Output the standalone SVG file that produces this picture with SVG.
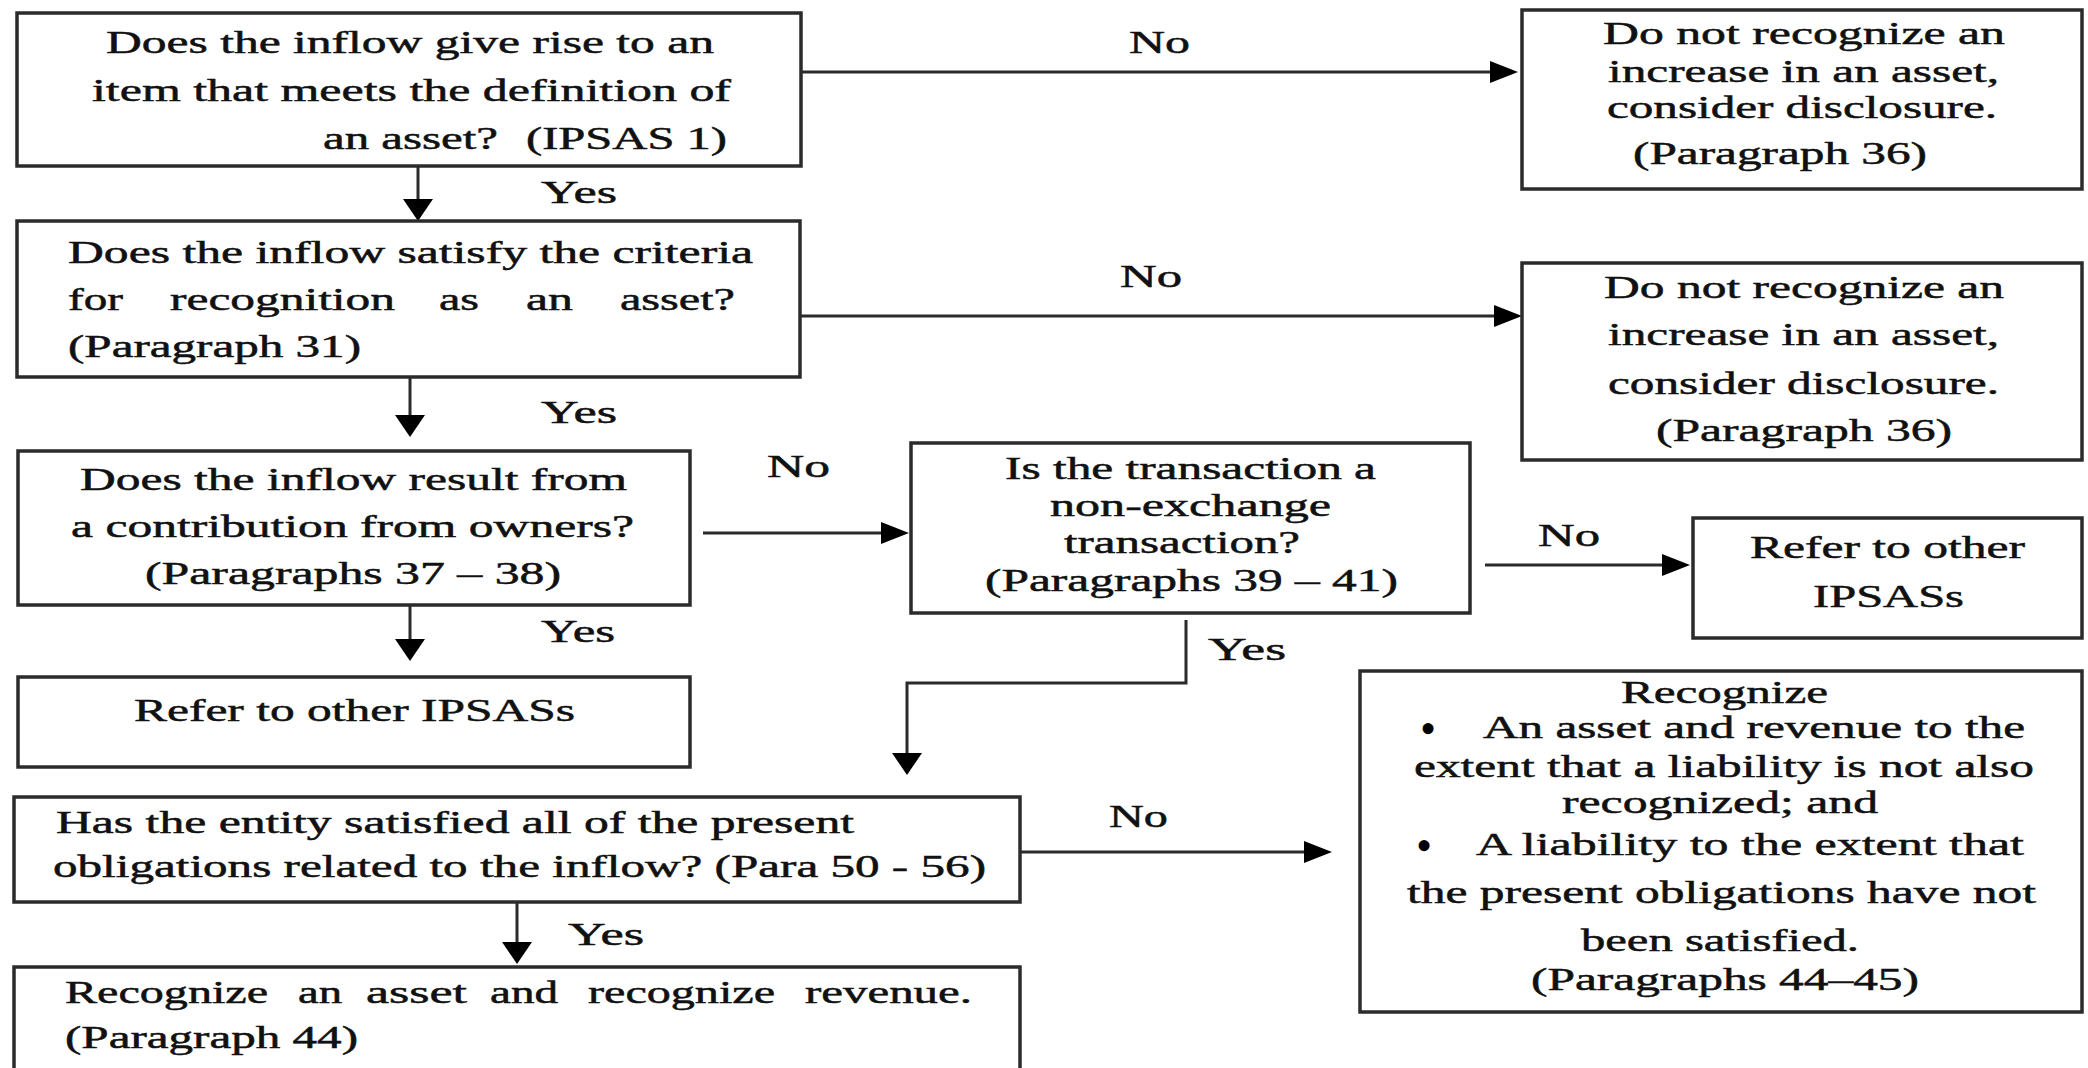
<svg xmlns="http://www.w3.org/2000/svg" width="2088" height="1068" viewBox="0 0 2088 1068">
  <style>
    .box { fill: #ffffff; stroke: #2b2b2b; stroke-width: 3.5; }
    .t { font-family: "Liberation Serif", "Times New Roman", serif; font-size: 31px; fill: #111111; stroke: #111111; stroke-width: 0.5; }
    .b { font-family: "Liberation Serif", "Times New Roman", serif; font-size: 46px; fill: #000000; }
    .c { fill: none; stroke: #2b2b2b; stroke-width: 3; }
  </style>
  <defs>
    <marker id="ah" markerUnits="userSpaceOnUse" markerWidth="30" markerHeight="24" refX="18" refY="11" orient="auto">
      <path d="M0,0 L28,11 L0,22 Z" fill="#000000"/>
    </marker>
    <marker id="av" markerUnits="userSpaceOnUse" markerWidth="24" markerHeight="32" refX="12" refY="15" orient="auto">
      <path d="M0,0 L22,15 L0,30 Z" fill="#000000"/>
    </marker>
  </defs>
  <rect width="2088" height="1068" fill="#ffffff"/>

  <g id="connectors">
    <line class="c" x1="418" y1="166" x2="418" y2="211" marker-end="url(#av)"/>
    <line class="c" x1="410" y1="377" x2="410" y2="427" marker-end="url(#av)"/>
    <line class="c" x1="410" y1="605" x2="410" y2="651" marker-end="url(#av)"/>
    <line class="c" x1="517" y1="902" x2="517" y2="954" marker-end="url(#av)"/>
    <line class="c" x1="801" y1="72" x2="1508" y2="72" marker-end="url(#ah)"/>
    <line class="c" x1="800" y1="316" x2="1512" y2="316" marker-end="url(#ah)"/>
    <line class="c" x1="703" y1="533" x2="899" y2="533" marker-end="url(#ah)"/>
    <line class="c" x1="1485" y1="565" x2="1680" y2="565" marker-end="url(#ah)"/>
    <line class="c" x1="1020" y1="852" x2="1322" y2="852" marker-end="url(#ah)"/>
    <polyline class="c" points="1186,620 1186,683 907,683 907,765" marker-end="url(#av)"/>
    <text class="t" x="541" y="203" textLength="76" lengthAdjust="spacingAndGlyphs">Yes</text>
    <text class="t" x="541" y="423" textLength="76" lengthAdjust="spacingAndGlyphs">Yes</text>
    <text class="t" x="541" y="642" textLength="74" lengthAdjust="spacingAndGlyphs">Yes</text>
    <text class="t" x="568" y="945" textLength="76" lengthAdjust="spacingAndGlyphs">Yes</text>
    <text class="t" x="1208" y="660" textLength="78" lengthAdjust="spacingAndGlyphs">Yes</text>
    <text class="t" x="1129" y="53" textLength="61" lengthAdjust="spacingAndGlyphs">No</text>
    <text class="t" x="1120" y="287" textLength="62" lengthAdjust="spacingAndGlyphs">No</text>
    <text class="t" x="767" y="477" textLength="63" lengthAdjust="spacingAndGlyphs">No</text>
    <text class="t" x="1538" y="546" textLength="62" lengthAdjust="spacingAndGlyphs">No</text>
    <text class="t" x="1109" y="827" textLength="59" lengthAdjust="spacingAndGlyphs">No</text>
  </g>

  <g id="q-asset-definition">
    <rect class="box" x="17" y="13" width="784" height="153"/>
    <text class="t" x="106" y="53" textLength="608" lengthAdjust="spacingAndGlyphs">Does the inflow give rise to an</text>
    <text class="t" x="92" y="101" textLength="639" lengthAdjust="spacingAndGlyphs">item that meets the definition of</text>
    <text class="t" y="149"><tspan x="323" textLength="175" lengthAdjust="spacingAndGlyphs">an asset?</tspan><tspan x="526" textLength="201" lengthAdjust="spacingAndGlyphs">(IPSAS 1)</tspan></text>
  </g>

  <g id="no-recognize-1">
    <rect class="box" x="1522" y="10" width="560" height="179"/>
    <text class="t" x="1603" y="44" textLength="402" lengthAdjust="spacingAndGlyphs">Do not recognize an</text>
    <text class="t" x="1608" y="82" textLength="391" lengthAdjust="spacingAndGlyphs">increase in an asset,</text>
    <text class="t" x="1607" y="118" textLength="390" lengthAdjust="spacingAndGlyphs">consider disclosure.</text>
    <text class="t" x="1633" y="164" textLength="294" lengthAdjust="spacingAndGlyphs">(Paragraph 36)</text>
  </g>

  <g id="q-recognition-criteria">
    <rect class="box" x="17" y="221" width="783" height="156"/>
    <text class="t" x="68" y="263" textLength="685" lengthAdjust="spacingAndGlyphs">Does the inflow satisfy the criteria</text>
    <text class="t" y="310"><tspan x="68" textLength="55" lengthAdjust="spacingAndGlyphs">for</tspan><tspan x="170" textLength="225" lengthAdjust="spacingAndGlyphs">recognition</tspan><tspan x="439" textLength="40" lengthAdjust="spacingAndGlyphs">as</tspan><tspan x="526" textLength="47" lengthAdjust="spacingAndGlyphs">an</tspan><tspan x="620" textLength="115" lengthAdjust="spacingAndGlyphs">asset?</tspan></text>
    <text class="t" x="68" y="357" textLength="293" lengthAdjust="spacingAndGlyphs">(Paragraph 31)</text>
  </g>

  <g id="no-recognize-2">
    <rect class="box" x="1522" y="263" width="560" height="197"/>
    <text class="t" x="1604" y="298" textLength="400" lengthAdjust="spacingAndGlyphs">Do not recognize an</text>
    <text class="t" x="1608" y="345" textLength="391" lengthAdjust="spacingAndGlyphs">increase in an asset,</text>
    <text class="t" x="1608" y="394" textLength="391" lengthAdjust="spacingAndGlyphs">consider disclosure.</text>
    <text class="t" x="1656" y="441" textLength="296" lengthAdjust="spacingAndGlyphs">(Paragraph 36)</text>
  </g>

  <g id="q-contribution-owners">
    <rect class="box" x="18" y="451" width="672" height="154"/>
    <text class="t" x="80" y="490" textLength="547" lengthAdjust="spacingAndGlyphs">Does the inflow result from</text>
    <text class="t" x="71" y="537" textLength="563" lengthAdjust="spacingAndGlyphs">a contribution from owners?</text>
    <text class="t" x="145" y="584" textLength="416" lengthAdjust="spacingAndGlyphs">(Paragraphs 37 – 38)</text>
  </g>

  <g id="q-non-exchange">
    <rect class="box" x="911" y="443" width="559" height="170"/>
    <text class="t" x="1005" y="479" textLength="371" lengthAdjust="spacingAndGlyphs">Is the transaction a</text>
    <text class="t" x="1050" y="516" textLength="281" lengthAdjust="spacingAndGlyphs">non-exchange</text>
    <text class="t" x="1064" y="553" textLength="236" lengthAdjust="spacingAndGlyphs">transaction?</text>
    <text class="t" x="985" y="591" textLength="413" lengthAdjust="spacingAndGlyphs">(Paragraphs 39 – 41)</text>
  </g>

  <g id="refer-other-right">
    <rect class="box" x="1693" y="518" width="389" height="120"/>
    <text class="t" x="1750" y="558" textLength="275" lengthAdjust="spacingAndGlyphs">Refer to other</text>
    <text class="t" x="1813" y="607" textLength="151" lengthAdjust="spacingAndGlyphs">IPSASs</text>
  </g>

  <g id="refer-other-left">
    <rect class="box" x="18" y="677" width="672" height="90"/>
    <text class="t" x="134" y="721" textLength="441" lengthAdjust="spacingAndGlyphs">Refer to other IPSASs</text>
  </g>

  <g id="q-present-obligations">
    <rect class="box" x="14" y="797" width="1006" height="105"/>
    <text class="t" x="56" y="833" textLength="798" lengthAdjust="spacingAndGlyphs">Has the entity satisfied all of the present</text>
    <text class="t" x="53" y="877" textLength="933" lengthAdjust="spacingAndGlyphs">obligations related to the inflow? (Para 50 - 56)</text>
  </g>

  <g id="recognize-liability">
    <rect class="box" x="1360" y="671" width="722" height="341"/>
    <text class="t" x="1621" y="703" textLength="207" lengthAdjust="spacingAndGlyphs">Recognize</text>
    <text class="b" x="1420" y="744">•</text>
    <text class="t" x="1483" y="738" textLength="542" lengthAdjust="spacingAndGlyphs">An asset and revenue to the</text>
    <text class="t" x="1414" y="777" textLength="620" lengthAdjust="spacingAndGlyphs">extent that a liability is not also</text>
    <text class="t" x="1562" y="813" textLength="316" lengthAdjust="spacingAndGlyphs">recognized; and</text>
    <text class="b" x="1416" y="861">•</text>
    <text class="t" x="1476" y="855" textLength="548" lengthAdjust="spacingAndGlyphs">A liability to the extent that</text>
    <text class="t" x="1407" y="903" textLength="629" lengthAdjust="spacingAndGlyphs">the present obligations have not</text>
    <text class="t" x="1581" y="951" textLength="278" lengthAdjust="spacingAndGlyphs">been satisfied.</text>
    <text class="t" x="1531" y="990" textLength="388" lengthAdjust="spacingAndGlyphs">(Paragraphs 44–45)</text>
  </g>

  <g id="recognize-revenue">
    <rect class="box" x="14" y="967" width="1006" height="120"/>
    <text class="t" y="1003"><tspan x="65" textLength="203" lengthAdjust="spacingAndGlyphs">Recognize</tspan><tspan x="298" textLength="44" lengthAdjust="spacingAndGlyphs">an</tspan><tspan x="366" textLength="101" lengthAdjust="spacingAndGlyphs">asset</tspan><tspan x="490" textLength="68" lengthAdjust="spacingAndGlyphs">and</tspan><tspan x="588" textLength="187" lengthAdjust="spacingAndGlyphs">recognize</tspan><tspan x="805" textLength="167" lengthAdjust="spacingAndGlyphs">revenue.</tspan></text>
    <text class="t" x="65" y="1048" textLength="293" lengthAdjust="spacingAndGlyphs">(Paragraph 44)</text>
  </g>
</svg>
